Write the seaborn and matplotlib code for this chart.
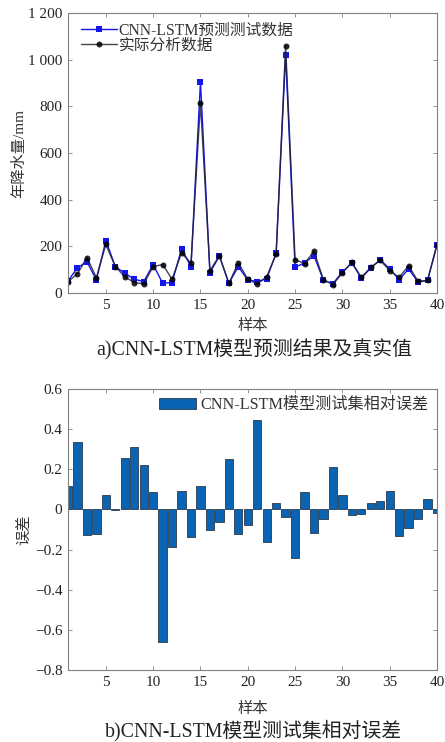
import numpy as np
import pandas as pd
import matplotlib
matplotlib.use("Agg")
import matplotlib.pyplot as plt
import seaborn as sns

samples = list(range(1, 41))
pred = [52, 108, 134, 56, 225, 113, 85, 59, 49, 122,
        42, 45, 189, 113, 905, 87, 158, 42, 113, 56,
        49, 61, 172, 1022, 110, 129, 160, 54, 40, 90,
        129, 64, 107, 143, 103, 57, 103, 47, 54, 207]
actual = [49, 82, 152, 66, 208, 113, 70, 45, 39, 113,
          122, 59, 172, 127, 815, 96, 160, 41, 130, 59,
          38, 70, 166, 1060, 143, 126, 179, 57, 36, 86,
          131, 67, 110, 140, 96, 67, 117, 50, 54, 207]
rel_err = [0.117, 0.338, -0.125, -0.120, 0.072, -0.005, 0.257, 0.312, 0.223, 0.087,
           -0.662, -0.188, 0.090, -0.137, 0.115, -0.100, -0.062, 0.253, -0.120, -0.078,
           0.447, -0.163, 0.030, -0.038, -0.240, 0.087, -0.118, -0.048, 0.212, 0.070,
           -0.028, -0.023, 0.033, 0.043, 0.093, -0.132, -0.093, -0.048, 0.050, -0.017]

label_pred = "CNN-LSTM预测测试数据"
label_act = "实际分析数据"
label_err = "CNN-LSTM模型测试集相对误差"
xlab = "样本"
ylab_top = "年降水量/mm"
ylab_bot = "误差"
cap_a = "a)CNN-LSTM模型预测结果及真实值"
cap_b = "b)CNN-LSTM模型测试集相对误差"
xticks = [5, 10, 15, 20, 25, 30, 35, 40]
yticks_top = [0, 200, 400, 600, 800, 1000, 1200]
yticklabels_top = ["0", "200", "400", "600", "800", "1 000", "1 200"]
yticks_bot = [-0.8, -0.6, -0.4, -0.2, 0, 0.2, 0.4, 0.6]
yticklabels_bot = ["\u22120.8", "\u22120.6", "\u22120.4", "\u22120.2", "0", "0.2", "0.4", "0.6"]

sns.set_style("ticks")
plt.rcParams["font.family"] = ["Liberation Serif", "Noto Sans CJK SC"]
plt.rcParams["axes.unicode_minus"] = False

df = pd.DataFrame({"x": samples, "pred": pred, "actual": actual, "err": rel_err})

fig = plt.figure(figsize=(4.45, 7.42), dpi=100)
ax1 = fig.add_axes([68/445, 1-293/742, 369/445, 280/742])
ax2 = fig.add_axes([68/445, 1-670/742, 369/445, 281/742])

frame_col = "#808080"
for ax in (ax1, ax2):
    for s in ax.spines.values():
        s.set_color(frame_col)
        s.set_linewidth(0.8)
    ax.tick_params(direction="in", top=True, right=True, length=3,
                   width=0.6, color=frame_col, labelsize=11, labelcolor="#222222",
                   pad=4)

sns.lineplot(data=df, x="x", y="pred", ax=ax1, color="#1515ee", lw=1.0,
             marker="s", markersize=4.3, markeredgewidth=0, label=label_pred)
sns.lineplot(data=df, x="x", y="actual", ax=ax1, color="#222233", lw=1.0, alpha=0.85,
             marker="o", markersize=4.3, markeredgewidth=0, markerfacecolor="black",
             label=label_act)
ax1.set_xlim(1, 40)
ax1.set_ylim(0, 1200)
ax1.set_xticks(xticks)
ax1.set_yticks(yticks_top)
ax1.set_yticklabels(yticklabels_top)
ax1.set_xlabel(xlab, fontsize=11, color="#333333", labelpad=5)
ax1.set_ylabel(ylab_top, fontsize=11, color="#333333", labelpad=1)
leg1 = ax1.legend(loc="upper left", frameon=False, fontsize=11.3, handlelength=2.3,
                  handletextpad=0.1, labelspacing=-0.05, borderaxespad=0.3,
                  borderpad=0.3, bbox_to_anchor=(0.01, 1.0))
for t in leg1.get_texts():
    t.set_color("#333333")

sns.barplot(data=df, x="x", y="err", ax=ax2, native_scale=True, width=0.88,
            color="#0b63b3", saturation=1, edgecolor="#2a3a4a", linewidth=0.6,
            label=label_err)
ax2.set_xlim(1, 40)
ax2.set_ylim(-0.8, 0.6)
ax2.set_xticks(xticks)
ax2.set_xticklabels([str(v) for v in xticks])
ax2.set_yticks(yticks_bot)
ax2.set_yticklabels(yticklabels_bot)
ax2.set_xlabel(xlab, fontsize=11, color="#333333", labelpad=10)
ax2.set_ylabel(ylab_bot, fontsize=11, color="#333333", labelpad=3)
leg2 = ax2.legend(loc="upper right", frameon=False, fontsize=11.6, handlelength=2.3,
                  handleheight=0.7, handletextpad=0.3, borderaxespad=0.3, borderpad=0.2)
for t in leg2.get_texts():
    t.set_color("#333333")

fig.text(254/445, 1-350/742, cap_a, ha="center", va="center", fontsize=14.3, color="#222222")
fig.text(254/445, 1-731/742, cap_b, ha="center", va="center", fontsize=14.3, color="#222222")

fig.savefig("out.png", dpi=100)
